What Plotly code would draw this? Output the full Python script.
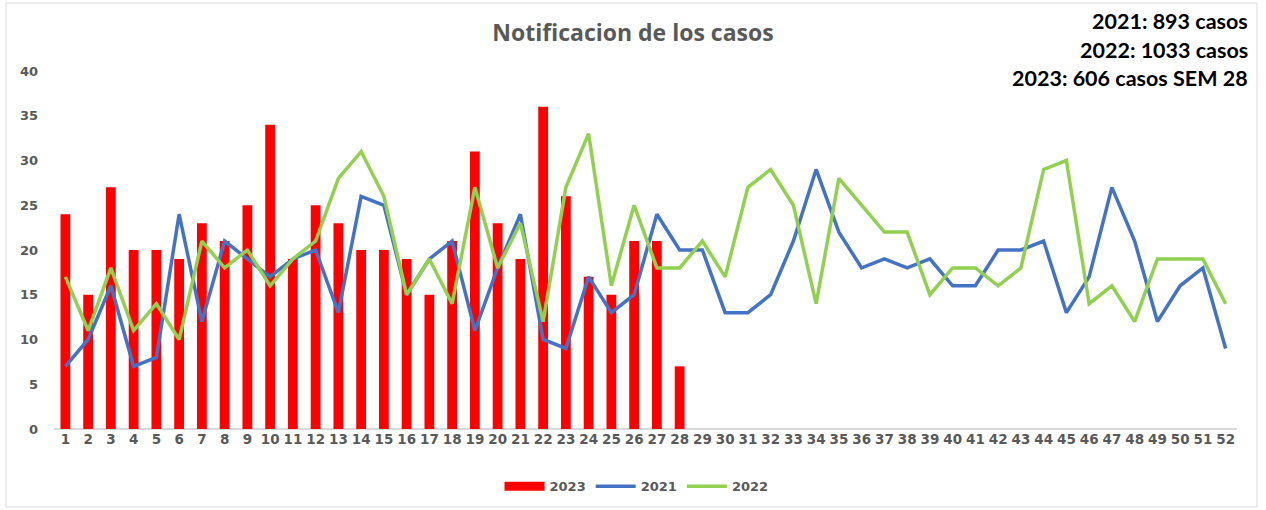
import plotly.graph_objects as go

weeks = list(range(1, 53))
weeks_2023 = list(range(1, 29))
casos_2023 = [24, 15, 27, 20, 20, 19, 23, 21, 25, 34, 19, 25, 23, 20, 20, 19, 15, 21, 31, 23,
              19, 36, 26, 17, 15, 21, 21, 7]
casos_2021 = [7, 10, 16, 7, 8, 24, 12, 21, 19, 17, 19, 20, 13, 26, 25, 15, 19, 21, 11, 18,
              24, 10, 9, 17, 13, 15, 24, 20, 20, 13, 13, 15, 21, 29, 22, 18, 19, 18, 19, 16,
              16, 20, 20, 21, 13, 17, 27, 21, 12, 16, 18, 9]
casos_2022 = [17, 11, 18, 11, 14, 10, 21, 18, 20, 16, 19, 21, 28, 31, 26, 15, 19, 14, 27, 18,
              23, 12, 27, 33, 16, 25, 18, 18, 21, 17, 27, 29, 25, 14, 28, 25, 22, 22, 15, 18,
              18, 16, 18, 29, 30, 14, 16, 12, 19, 19, 19, 14]
y_ticks = [0, 5, 10, 15, 20, 25, 30, 35, 40]
title_text = "Notificacion de los casos"
totals = ["2021: 893 casos", "2022: 1033 casos", "2023: 606 casos SEM 28"]

TICKFONT = "DejaVu Sans, Verdana, sans-serif"
GRAY = "#595959"
RED = "#FF0000"

fig = go.Figure()
# legend proxy giving the wide red rectangle of the bar series
fig.add_trace(go.Scatter(x=[None], y=[None], name="2023", mode="lines",
                         line=dict(color=RED, width=9), legendgroup="2023"))
fig.add_trace(go.Bar(x=weeks_2023, y=casos_2023, name="2023", showlegend=False,
                     legendgroup="2023", marker=dict(color=RED, line=dict(width=0))))
fig.add_trace(go.Scatter(x=weeks, y=casos_2021, name="2021", mode="lines",
                         line=dict(color="#4472C4", width=3.5)))
fig.add_trace(go.Scatter(x=weeks, y=casos_2022, name="2022", mode="lines",
                         line=dict(color="#92D050", width=3.5)))

fig.update_layout(
    width=1266, height=510,
    margin=dict(l=54, r=29, t=71, b=81, autoexpand=False),
    paper_bgcolor="white", plot_bgcolor="white",
    bargap=0.57,
    showlegend=True,
    legend=dict(orientation="h", x=0.5 - 9 / 1183, xanchor="center", y=-0.118, yanchor="top",
                font=dict(family=TICKFONT, size=13, color=GRAY, weight="bold"),
                traceorder="normal", itemwidth=40, tracegroupgap=0),
    title=dict(text=title_text, x=0.5, xanchor="center", y=0.935, yanchor="middle",
               font=dict(family="Open Sans, sans-serif", size=23, color=GRAY, weight="bold")),
    font=dict(family=TICKFONT, color=GRAY),
)
fig.update_xaxes(type="linear", range=[0.5, 52.5], tickmode="array", tickvals=weeks,
                 ticktext=[str(w) for w in weeks], showgrid=False, zeroline=False,
                 showline=False, ticks="", automargin=False,
                 tickfont=dict(family=TICKFONT, size=13.5, color=GRAY, weight="bold"))
fig.update_yaxes(range=[0, 40], tickmode="array", tickvals=y_ticks, showgrid=False,
                 zeroline=True, zerolinecolor="#D9D9D9", zerolinewidth=1.5,
                 showline=False, ticks="", ticklabelstandoff=15, automargin=False,
                 tickfont=dict(family=TICKFONT, size=13, color=GRAY, weight="bold"))

for i, t in enumerate(totals):
    fig.add_annotation(text=t, xref="paper", yref="paper", x=1.0 + 13 / 1183, xanchor="right",
                       y=1.0 + (71 - 21 - 28.5 * i) / 358.3, yanchor="middle", showarrow=False,
                       font=dict(family="Lato, sans-serif", size=21.5, color="black", weight="bold"))

fig.add_shape(type="rect", xref="paper", yref="paper",
              x0=-48 / 1183, x1=1.0 + 20 / 1183, y0=-78 / 358.3, y1=1.0 + 68 / 358.3,
              line=dict(color="#D9D9D9", width=1), fillcolor="rgba(0,0,0,0)", layer="below")

fig.write_html("out.html", config={"displayModeBar": False},
               post_script="document.body.style.margin='0';")
